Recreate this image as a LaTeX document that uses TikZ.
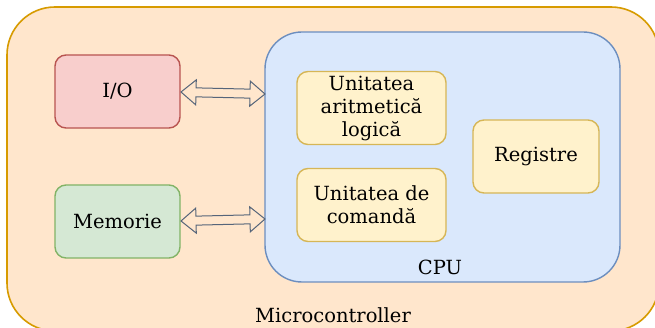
\documentclass[tikz,border=0pt]{standalone}
\usepackage{fontspec}
\setmainfont{DejaVu Serif}
\usetikzlibrary{calc}

\definecolor{mcfill}{HTML}{FFE6CC}
\definecolor{mcline}{HTML}{D79B00}
\definecolor{iofill}{HTML}{F8CECC}
\definecolor{ioline}{HTML}{B85450}
\definecolor{memfill}{HTML}{D5E8D4}
\definecolor{memline}{HTML}{82B366}
\definecolor{cpufill}{HTML}{DAE8FC}
\definecolor{cpuline}{HTML}{6C8EBF}
\definecolor{unitfill}{HTML}{FFF2CC}
\definecolor{unitline}{HTML}{D6B656}
\definecolor{arrowline}{HTML}{56657A}

\tikzset{
  block/.style={draw, line width=1.4pt, rounded corners=11pt, align=center,
    inner sep=0pt, font=\fontsize{19.5}{23}\selectfont},
  iobox/.style={block, fill=iofill, draw=ioline, minimum width=125pt, minimum height=73pt},
  membox/.style={block, fill=memfill, draw=memline, minimum width=125pt, minimum height=73pt},
  unitbox/.style={block, fill=unitfill, draw=unitline, minimum width=149pt, minimum height=73pt},
  regbox/.style={block, fill=unitfill, draw=unitline, minimum width=126pt, minimum height=73pt},
  label/.style={inner sep=0pt, font=\fontsize{19.5}{23}\selectfont},
  flexarrow/.style={draw=arrowline, line width=1pt, line join=miter},
}

% outlined double-headed block arrow between two points
\newcommand\flexarrow[2]{%
  \draw[flexarrow] (#1)
    -- ($(#1)!15pt!(#2)!12.5pt!90:(#2)$)
    -- ($(#1)!15pt!(#2)!4.5pt!90:(#2)$)
    -- ($(#2)!15pt!(#1)!4.5pt!-90:(#1)$)
    -- ($(#2)!15pt!(#1)!12.5pt!-90:(#1)$)
    -- (#2)
    -- ($(#2)!15pt!(#1)!12.5pt!90:(#1)$)
    -- ($(#2)!15pt!(#1)!4.5pt!90:(#1)$)
    -- ($(#1)!15pt!(#2)!4.5pt!-90:(#2)$)
    -- ($(#1)!15pt!(#2)!12.5pt!-90:(#2)$)
    -- cycle;}

\begin{document}
\begin{tikzpicture}[x=1pt, y=-1pt]
  \useasboundingbox (0,0) rectangle (655,328);

  % microcontroller outline
  \draw[fill=mcfill, draw=mcline, line width=1.6pt, rounded corners=48pt]
    (7,7) rectangle (659,331);
  \node[label] (mc) at (333,315) {Microcontroller};

  % CPU
  \draw[fill=cpufill, draw=cpuline, line width=1.4pt, rounded corners=37pt]
    (265,32) rectangle (620,282);
  \node[label] (cpu) at (440,267) {CPU};

  % peripherals
  \node[iobox] (io) at (117.5,91.5) {I/O};
  \node[membox] (mem) at (117.5,221.5) {Memorie};

  % CPU units
  \node[unitbox] (alu) at (371.5,108) {Unitatea\\aritmetică\\logică};
  \node[unitbox] (cu) at (371.5,205) {Unitatea de\\comandă};
  \node[regbox] (reg) at (536,156.5) {Registre};

  % bus connections to the CPU
  \coordinate (ioin) at (265,94);
  \coordinate (memin) at (265,219);
  \coordinate (ioout) at (181,92);
  \coordinate (memout) at (181,221);
  \flexarrow{ioout}{ioin}
  \flexarrow{memout}{memin}
\end{tikzpicture}
\end{document}
